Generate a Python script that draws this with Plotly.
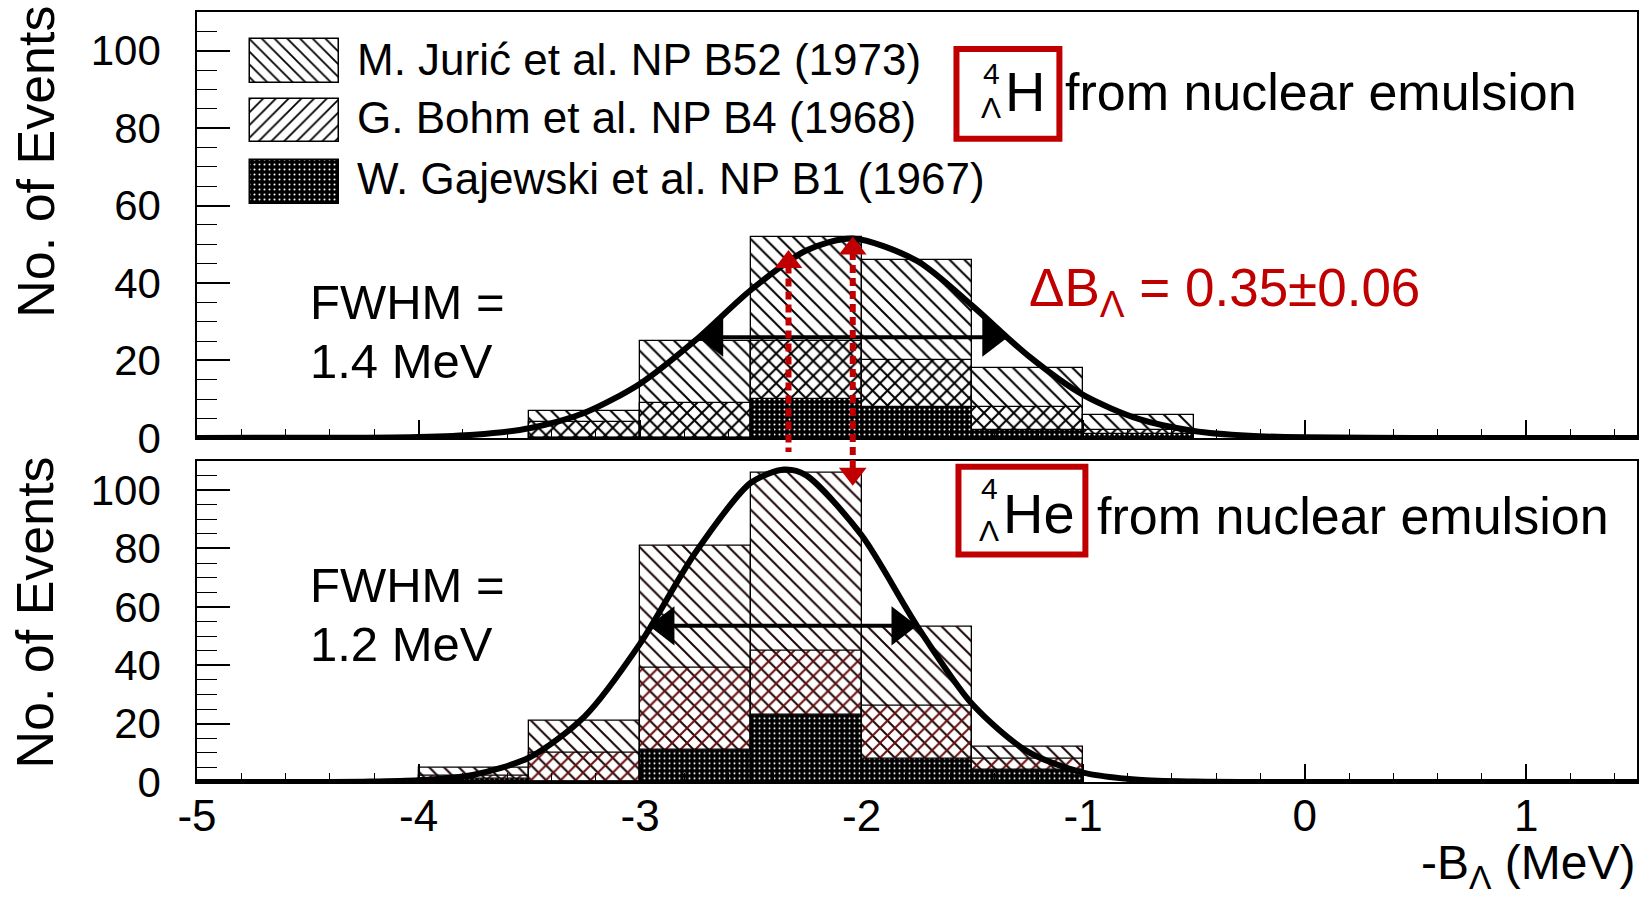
import plotly.graph_objects as go
from plotly.subplots import make_subplots
import numpy as np

# ---------------- data ----------------
bin_width = 0.5
top_centers = [-3.25, -2.75, -2.25, -1.75, -1.25, -0.75]
top_juric = [3, 16, 27, 26, 10, 4]
top_bohm = [4, 9, 15, 12, 6, 1]
top_gajewski = [0, 0, 10, 8, 2, 1]

bot_centers = [-3.75, -3.25, -2.75, -2.25, -1.75, -1.25]
bot_juric = [3, 11, 42, 61, 27, 4]
bot_bohm = [1, 10, 28, 22, 18, 4]
bot_gajewski = [1, 0, 11, 23, 8, 4]

fit_top_x = [-5, -4.5, -4.25, -4, -3.75, -3.5, -3.25, -3, -2.75, -2.5, -2.25, -2.04,
             -1.75, -1.5, -1.25, -1, -0.75, -0.5, -0.25, 0, 0.5, 1.5]
fit_top_y = [0, 0.01, 0.05, 0.22, 0.8, 2.5, 6.5, 14.0, 25.2, 38.2, 48.4, 51.5,
             45.7, 34.1, 21.3, 11.1, 4.9, 1.8, 0.55, 0.14, 0, 0]
fit_bot_x = [-5, -4.5, -4.25, -4, -3.75, -3.5, -3.25, -3, -2.75, -2.5, -2.35, -2.25,
             -2, -1.75, -1.5, -1.25, -1, -0.75, -0.5, -0.25, 0, 1.5]
fit_bot_y = [0, 0.01, 0.1, 0.57, 2.5, 8.4, 22.5, 47.4, 78.6, 102.5, 107, 105.0,
             84.5, 53.5, 26.6, 10.4, 3.2, 0.77, 0.15, 0.02, 0, 0]

fwhm_top_x = [-2.74, -1.34]
fwhm_top_y = 26
fwhm_bot_x = [-2.96, -1.75]
fwhm_bot_y = 53.5

shift_x = [-2.33, -2.04]          # red dotted arrows
shift_top_tip = [48.5, 52.0]      # arrow tips in upper panel
shift_bot_tip = [109.0, 101.5]    # arrow tips in lower panel

x_tickvals = [-5, -4, -3, -2, -1, 0, 1]
x_ticktext = ['-5', '-4', '-3', '-2', '-1', '0', '1']
y_tickvals = [0, 20, 40, 60, 80, 100]

legend_labels = ['M. Jurić et al. NP B52 (1973)',
                 'G. Bohm et al. NP B4 (1968)',
                 'W. Gajewski et al. NP B1 (1967)']

# ---------------- layout geometry ----------------
W, H = 1649, 897
L, R, T, B = 197, 11, 10, 115
PW, PH = W - L - R, H - T - B
YMAX = 110
XR = [-5, 1.5]
top_dom = [(H - B - 437) / PH, 1.0]
bot_dom = [0.0, (H - B - 460) / PH]

def px2x(x):
    return (x - L) / PW

def px2y(y):
    return (H - B - y) / PH

def data2paper_y(v, dom):
    return dom[0] + v / YMAX * (dom[1] - dom[0])

def px2dx(x):
    return XR[0] + (x - L) / PW * (XR[1] - XR[0])

def px2dy_top(y):
    return (437 - y) / (437 - T) * YMAX

FONT = 'Liberation Sans, Arial, sans-serif'
RED = '#c00000'

fig = make_subplots(rows=2, cols=1, shared_xaxes=False, vertical_spacing=0.0)

def pat(shape, fg, bg='rgba(0,0,0,0)', size=10.5, solidity=0.19):
    return dict(shape=shape, fgcolor=fg, bgcolor=bg, size=size, solidity=solidity, fillmode='replace')

def add_stack(row, centers, j, b, g, cj, cb):
    j, b, g = np.array(j), np.array(b), np.array(g)
    tot = j + b + g
    bg_ = b + g
    fig.add_trace(go.Bar(x=centers, y=tot, width=bin_width,
                         marker=dict(color='rgba(0,0,0,0)', pattern=pat('\\', cj),
                                     line=dict(color='black', width=1.3)),
                         showlegend=False, hoverinfo='skip'), row=row, col=1)
    fig.add_trace(go.Bar(x=centers, y=bg_, width=bin_width,
                         marker=dict(color='rgba(0,0,0,0)', pattern=pat('/', cb),
                                     line=dict(color='black', width=1.3)),
                         showlegend=False, hoverinfo='skip'), row=row, col=1)
    fig.add_trace(go.Bar(x=centers, y=g, width=bin_width,
                         marker=dict(color='black', pattern=pat('.', 'white', 'black', 5, 0.13),
                                     line=dict(color='black', width=1.3)),
                         showlegend=False, hoverinfo='skip'), row=row, col=1)

add_stack(1, top_centers, top_juric, top_bohm, top_gajewski, 'black', 'black')
add_stack(2, bot_centers, bot_juric, bot_bohm, bot_gajewski, '#1a0303', '#6b0f0f')

# legend swatches (upper panel)
sw_x0, sw_x1 = px2dx(250), px2dx(339)
sw_rows = [(37, 81), (97, 140), (158, 202)]
sw_pats = [pat('\\', 'black', size=9, solidity=0.2), pat('/', 'black', size=9, solidity=0.2),
           pat('.', 'white', 'black', 5, 0.13)]
for (ya, yb), p in zip(sw_rows, sw_pats):
    base = px2dy_top(yb)
    fig.add_trace(go.Bar(x=[(sw_x0 + sw_x1) / 2], y=[px2dy_top(ya) - base], base=[base],
                         width=[sw_x1 - sw_x0],
                         marker=dict(color='black' if p['shape'] == '.' else 'rgba(0,0,0,0)',
                                     pattern=p, line=dict(color='black', width=1.5)),
                         showlegend=False, hoverinfo='skip'), row=1, col=1)

# fit curves
fig.add_trace(go.Scatter(x=fit_top_x, y=fit_top_y, mode='lines',
                         line=dict(color='black', width=6, shape='spline', smoothing=0.8),
                         showlegend=False, hoverinfo='skip'), row=1, col=1)
fig.add_trace(go.Scatter(x=fit_bot_x, y=fit_bot_y, mode='lines',
                         line=dict(color='black', width=6, shape='spline', smoothing=0.8),
                         showlegend=False, hoverinfo='skip'), row=2, col=1)

# FWHM double arrows
def fwhm_arrow(row, xs, y, ppu):
    fig.add_trace(go.Scatter(x=xs, y=[y, y], mode='lines', line=dict(color='black', width=4),
                             showlegend=False, hoverinfo='skip'), row=row, col=1)
    r = 17 / ppu
    fig.add_trace(go.Scatter(x=[xs[0] + r, xs[1] - r], y=[y, y], mode='markers',
                             marker=dict(symbol=['triangle-left', 'triangle-right'], size=34,
                                         color='black'),
                             showlegend=False, hoverinfo='skip', cliponaxis=False), row=row, col=1)

ppu_x = PW / (XR[1] - XR[0])
fwhm_arrow(1, fwhm_top_x, fwhm_top_y, ppu_x)
fwhm_arrow(2, fwhm_bot_x, fwhm_bot_y, ppu_x)

# red dotted arrows
ppu_top = (437 - T) / YMAX
ppu_bot = (H - B - 460) / YMAX
for xv, tt, bt in zip(shift_x, shift_top_tip, shift_bot_tip):
    fig.add_shape(type='line', xref='x', yref='paper', x0=xv, x1=xv,
                  y0=data2paper_y(tt - 4, top_dom), y1=data2paper_y(bt + 4, bot_dom),
                  line=dict(color=RED, width=6, dash='8px,5px'))
fig.add_trace(go.Scatter(x=shift_x, y=[v - 12 / ppu_top for v in shift_top_tip], mode='markers',
                         marker=dict(symbol='triangle-up', size=24, color=RED),
                         showlegend=False, hoverinfo='skip', cliponaxis=False), row=1, col=1)
fig.add_trace(go.Scatter(x=shift_x, y=[v + 12 / ppu_bot for v in shift_bot_tip], mode='markers',
                         marker=dict(symbol='triangle-down', size=24, color=RED),
                         showlegend=False, hoverinfo='skip', cliponaxis=False), row=2, col=1)

# axes
axis_common = dict(showline=True, mirror=True, linecolor='black', linewidth=1.5,
                   showgrid=False, zeroline=False, ticks='inside', tickcolor='black')
fig.update_xaxes(range=XR, tickvals=x_tickvals, ticktext=x_ticktext, ticklen=18, tickwidth=1.5,
                 minor=dict(dtick=0.2, tick0=0, ticks='inside', ticklen=9, tickcolor='black', tickwidth=1.2),
                 tickfont=dict(family=FONT, size=44, color='black'), ticklabelstandoff=-6,
                 **axis_common)
fig.update_xaxes(showticklabels=False, row=1, col=1)
fig.update_yaxes(range=[0, YMAX], tickvals=y_tickvals, ticklen=33, tickwidth=1.5,
                 minor=dict(dtick=5, tick0=0, ticks='inside', ticklen=20, tickcolor='black', tickwidth=1.2),
                 tickfont=dict(family=FONT, size=42, color='black'), ticklabelstandoff=26,
                 **axis_common)

fig.update_layout(
    width=W, height=H, barmode='overlay', bargap=0,
    margin=dict(l=L, r=R, t=T, b=B),
    paper_bgcolor='white', plot_bgcolor='white',
    xaxis=dict(domain=[0, 1]), xaxis2=dict(domain=[0, 1]),
    yaxis=dict(domain=top_dom), yaxis2=dict(domain=bot_dom),
    font=dict(family=FONT, color='black'),
)

ann = []
def txt(x, y, text, size, color='black', xanchor='left', yanchor='middle', angle=0):
    ann.append(dict(x=px2x(x), y=px2y(y), xref='paper', yref='paper', text=text, showarrow=False,
                    xanchor=xanchor, yanchor=yanchor, textangle=angle,
                    font=dict(family=FONT, size=size, color=color)))

# legend texts
for lbl, yc in zip(legend_labels, [58, 116, 177]):
    txt(355, yc, lbl, 44)

# y titles
txt(35, 160, 'No. of Events', 52, xanchor='center', angle=-90)
txt(35, 612, 'No. of Events', 52, xanchor='center', angle=-90)

# FWHM texts
txt(308, 330, 'FWHM =', 49, yanchor='bottom')
txt(308, 331, '1.4 MeV', 49, yanchor='top')
txt(308, 614, 'FWHM =', 49, yanchor='bottom')
txt(308, 615, '1.2 MeV', 49, yanchor='top')

# Delta B
txt(1028, 290, 'ΔB<sub>Λ</sub> = 0.35±0.06', 53, color=RED)

# hypernucleus labels
txt(992, 72, '4', 30, xanchor='center')
txt(992, 106, 'Λ', 30, xanchor='center')
txt(1004, 90, 'H', 56)
txt(1064, 90, 'from nuclear emulsion', 52)

txt(990, 488, '4', 30, xanchor='center')
txt(990, 530, 'Λ', 30, xanchor='center')
txt(1002, 513, 'He', 56)
txt(1096, 515, 'from nuclear emulsion', 52)

# x title
ann.append(dict(x=1.0, y=px2y(866), xref='paper', yref='paper', text='-B<sub>Λ</sub> (MeV)',
                showarrow=False, xanchor='right', yanchor='middle',
                font=dict(family=FONT, size=48, color='black')))
fig.update_layout(annotations=ann)

# red boxes
for (x0, y0, x1, y1) in [(957, 47, 1060, 137), (959, 466, 1086, 554)]:
    fig.add_shape(type='rect', xref='paper', yref='paper', x0=px2x(x0), x1=px2x(x1),
                  y0=px2y(y1), y1=px2y(y0), line=dict(color=RED, width=6))

fig.write_html('out.html')
